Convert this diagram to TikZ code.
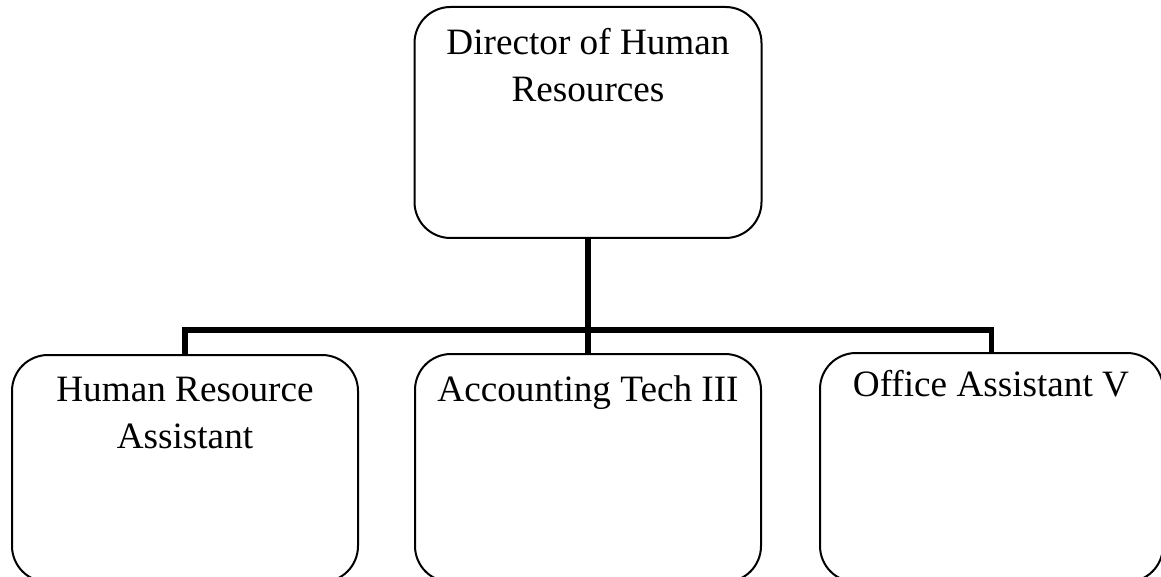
\documentclass[tikz,border=0pt]{standalone}
\usepackage{fontspec}
\setmainfont{Liberation Serif}
\begin{document}
\begin{tikzpicture}[x=0.5pt,y=-0.5pt,
  box/.style={draw, line width=1pt, rounded corners=18pt, inner sep=0pt},
  lbl/.style={anchor=north, align=center, inner sep=0pt, font=\fontsize{18.6}{23.5}\selectfont},
  link/.style={line width=2.6pt}]
\useasboundingbox (0,0) rectangle (1161,577);
\clip (0,0) rectangle (1161,577);
\node[box, minimum width=173.5pt, minimum height=115.5pt] (dir) at (588,122.5) {};
\node[box, minimum width=173pt, minimum height=113.5pt] (hr) at (185,468.5) {};
\node[box, minimum width=173pt, minimum height=114pt] (ac) at (588,468) {};
\node[box, minimum width=171.5pt, minimum height=114.5pt] (of) at (991.5,467.5) {};
\coordinate (j) at (588,330);
\draw[link] (dir.south) -- (ac.north);
\draw[link] (hr.north) -- (hr.north |- j) -- (of.north |- j) -- (of.north);
\node[lbl] (dirt) at (588,28) {Director of Human\\Resources};
\node[lbl] (hrt) at (185,377) {Human Resource\\Assistant};
\node[lbl] (act) at (588,375) {Accounting Tech III};
\node[lbl] (oft) at (991,370) {Office Assistant V};
\end{tikzpicture}
\end{document}
